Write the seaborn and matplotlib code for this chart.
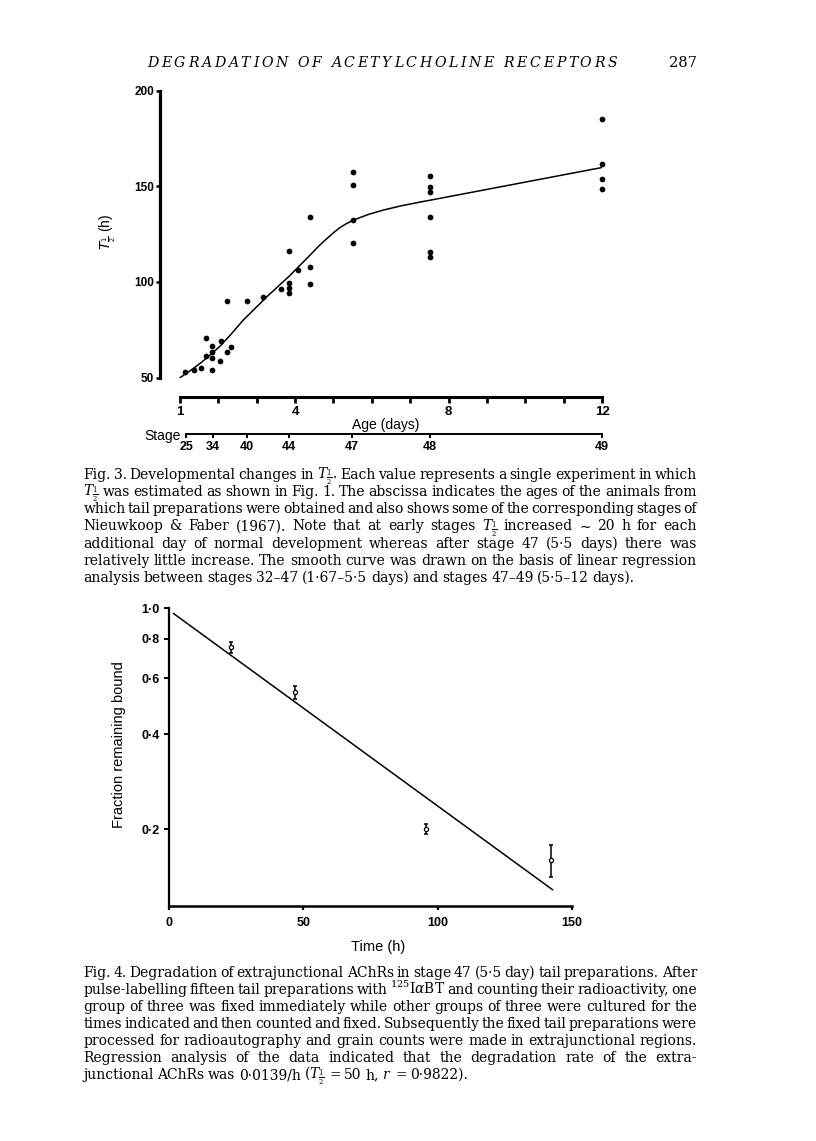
import matplotlib
matplotlib.use('Agg')
import matplotlib.pyplot as plt
from matplotlib.ticker import NullLocator
import seaborn as sns
import pandas as pd

W, H = 816, 1141
PT = 0.72  # points per pixel at dpi 100

# ---------------- Fig. 3 data ----------------
age_days = [1.14, 1.36, 1.55, 1.84, 1.67, 1.69, 1.84, 1.84, 1.84, 2.05, 2.08, 2.22, 2.33,
            2.22, 2.74, 3.17, 3.63, 3.83, 3.83, 3.83, 3.83, 4.08, 4.40, 4.40, 4.40,
            5.51, 5.51, 5.51, 5.51, 7.52, 7.52, 7.52, 7.51, 7.51, 7.51,
            12.0, 12.0, 12.0, 12.0]
t_half_h = [53.1, 54.2, 54.9, 54.2, 70.9, 61.3, 66.7, 63.2, 60.4, 58.9, 69.1, 63.2, 66.2,
            89.8, 89.8, 91.9, 96.1, 116.1, 99.5, 97.1, 94.0, 106.0, 133.9, 107.9, 98.9,
            157.2, 150.8, 132.2, 120.1, 155.2, 149.6, 146.8, 134.1, 115.7, 113.1,
            185.2, 161.8, 153.8, 148.7]
curve_age = [1.00, 1.25, 1.52, 1.75, 2.04, 2.30, 2.65, 3.26, 3.83, 4.39, 4.60, 4.82, 5.00,
             5.17, 5.35, 5.51, 5.90, 6.29, 6.75, 7.25, 7.52, 11.98]
curve_t_half = [50.0, 53.4, 57.4, 61.2, 66.4, 72.0, 80.1, 92.2, 102.7, 114.0, 118.4, 122.5, 125.7,
                128.4, 130.6, 132.2, 135.2, 137.5, 139.7, 141.7, 142.7, 159.7]
age_ticks_major = [1, 4, 8, 12]
age_ticks_minor = [2, 3, 5, 6, 7, 9, 10, 11]
stage_days = [1.16, 1.85, 2.74, 3.85, 5.49, 7.52, 12.0]
stage_labels = ['25', '34', '40', '44', '47', '48', '49']
t_half_ticks = [50, 100, 150, 200]

# ---------------- Fig. 4 data ----------------
time_h = [23.0, 47.0, 95.5, 142.0]
fraction_bound = [0.753, 0.542, 0.200, 0.160]
fraction_low = [0.720, 0.515, 0.193, 0.141]
fraction_high = [0.783, 0.566, 0.208, 0.178]
fit_time_h = [1.6, 142.8]
fit_fraction = [0.964, 0.1286]
time_ticks = [0, 50, 100, 150]
fraction_ticks = [0.2, 0.4, 0.6, 0.8, 1.0]
fraction_tick_labels = ['0·2', '0·4', '0·6', '0·8', '1·0']

header_text = 'DEGRADATION OF ACETYLCHOLINE RECEPTORS'
page_number = '287'
TH = r'$\mathit{T}_{\frac{1}{2}}$'
caption3 = [
    'Fig. 3. Developmental changes in ' + TH + '. Each value represents a single experiment in which',
    TH + ' was estimated as shown in Fig. 1. The abscissa indicates the ages of the animals from',
    'which tail preparations were obtained and also shows some of the corresponding stages of',
    'Nieuwkoop & Faber (1967). Note that at early stages ' + TH + ' increased \u223c 20 h for each',
    'additional day of normal development whereas after stage 47 (5·5 days) there was',
    'relatively little increase. The smooth curve was drawn on the basis of linear regression',
    'analysis between stages 32\u201347 (1·67\u20135·5 days) and stages 47\u201349 (5·5\u201312 days).',
]
caption4 = [
    'Fig. 4. Degradation of extrajunctional AChRs in stage 47 (5·5 day) tail preparations. After',
    r'pulse-labelling fifteen tail preparations with $^{125}$I$\alpha$BT and counting their radioactivity, one',
    'group of three was fixed immediately while other groups of three were cultured for the',
    'times indicated and then counted and fixed. Subsequently the fixed tail preparations were',
    'processed for radioautography and grain counts were made in extrajunctional regions.',
    'Regression analysis of the data indicated that the degradation rate of the extra-',
    'junctional AChRs was 0·0139/h (' + TH + r' = 50 h, $\mathit{r}$ = 0·9822).',
]

sns.set_theme(style='ticks')
plt.rcParams['font.family'] = ['Liberation Sans', 'DejaVu Sans']
plt.rcParams['axes.edgecolor'] = 'black'
plt.rcParams['xtick.color'] = 'black'
plt.rcParams['ytick.color'] = 'black'
plt.rcParams['text.color'] = 'black'
plt.rcParams['axes.labelcolor'] = 'black'

fig = plt.figure(figsize=(W / 100, H / 100), dpi=100)
fig.patch.set_facecolor('white')


def fbox(l, t, r, b):
    return [l / W, 1 - b / H, (r - l) / W, (b - t) / H]


# ================= Fig. 3 =================
x_left = 1 - 20 / 38.4
x_right = 12 + 10 / 38.4
ax1 = fig.add_axes(fbox(160, 90.5, 612, 377.7))
df3 = pd.DataFrame({'age': age_days, 't': t_half_h})
sns.lineplot(x=curve_age, y=curve_t_half, ax=ax1, color='black', linewidth=1.1,
             sort=False, estimator=None)
sns.scatterplot(data=df3, x='age', y='t', ax=ax1, color='black', s=17, linewidth=0,
                clip_on=False, zorder=3)
ax1.set(xlim=(x_left, x_right), ylim=(50, 200))
ax1.set_facecolor('white')
ax1.spines['top'].set_visible(False)
ax1.spines['right'].set_visible(False)
ax1.spines['left'].set_linewidth(2.3)
ax1.spines['left'].set_bounds(50, 200)
ax1.spines['bottom'].set_position(('outward', 19 * PT))
ax1.spines['bottom'].set_linewidth(2.2)
ax1.spines['bottom'].set_bounds(1, 12)
ax1.set_yticks(t_half_ticks)
ax1.set_xticks(age_ticks_major)
ax1.set_xticks(age_ticks_minor, minor=True)
ax1.tick_params(axis='y', direction='out', length=4.5 * PT, width=1.8, pad=1.5 * PT, labelsize=8.5)
ax1.tick_params(axis='x', which='both', direction='out', length=5.5 * PT, width=2.0,
                pad=4.0 * PT, labelsize=9.5)
ax1.tick_params(axis='x', which='minor', labelbottom=False)
for lab in ax1.get_xticklabels() + ax1.get_yticklabels():
    lab.set_fontweight('bold')
ax1.set_ylabel(TH + ' (h)', fontsize=10)
ax1.yaxis.set_label_coords((118 - 160) / 452, (377.7 - 232) / 287.2)
ax1.set_xlabel('Age (days)', fontsize=10)
ax1.xaxis.set_label_coords(0.5, -(418 - 377.7) / 287.2)

sec = ax1.secondary_xaxis(-(434.3 - 377.7) / 287.2)
sec.set_xticks(stage_days, labels=stage_labels)
sec.spines['bottom'].set_bounds(stage_days[0], stage_days[-1])
sec.spines['bottom'].set_linewidth(1.4)
sec.tick_params(direction='out', length=4 * PT, width=1.4, pad=2.5 * PT, labelsize=9)
for lab in sec.get_xticklabels():
    lab.set_fontweight('bold')
fig.text(181 / W, 1 - 440 / H, 'Stage', ha='right', va='baseline', fontsize=10)

# ================= Fig. 4 =================
ax2 = fig.add_axes(fbox(169, 608.3, 572, 905.5))
ax2.set_yscale('log')
sns.lineplot(x=fit_time_h, y=fit_fraction, ax=ax2, color='black', linewidth=1.1, estimator=None)
yerr = [[f - lo for f, lo in zip(fraction_bound, fraction_low)],
        [hi - f for f, hi in zip(fraction_bound, fraction_high)]]
ax2.errorbar(time_h, fraction_bound, yerr=yerr, fmt='none', ecolor='black',
             elinewidth=1.1, capsize=1.6, capthick=1.1, zorder=3)
sns.scatterplot(x=time_h, y=fraction_bound, ax=ax2, s=9, color='white',
                edgecolor='black', linewidth=0.9, zorder=4)
ax2.set(xlim=(0, 150), ylim=(0.1147, 1.0))
ax2.set_facecolor('white')
ax2.spines['top'].set_visible(False)
ax2.spines['right'].set_visible(False)
ax2.spines['left'].set_linewidth(1.6)
ax2.spines['bottom'].set_linewidth(1.8)
ax2.set_yticks(fraction_ticks, labels=fraction_tick_labels)
ax2.yaxis.set_minor_locator(NullLocator())
ax2.set_xticks(time_ticks)
ax2.tick_params(axis='y', direction='out', length=5.5 * PT, width=1.4, pad=4 * PT, labelsize=9)
ax2.tick_params(axis='x', direction='out', length=4 * PT, width=1.6, pad=7 * PT, labelsize=9)
for lab in ax2.get_xticklabels() + ax2.get_yticklabels():
    lab.set_fontweight('bold')
ax2.set_ylabel('Fraction remaining bound', fontsize=10.5)
ax2.yaxis.set_label_coords((126 - 169) / 403, (905.5 - 745) / 297.2)
ax2.set_xlabel('Time (h)', fontsize=10.5)
ax2.xaxis.set_label_coords((378 - 169) / 403, -(940 - 905.5) / 297.2)

# ================= page text =================
SERIF = ['DejaVu Serif', 'Liberation Serif']
renderer = fig.canvas.get_renderer()


def make_text(s, fs, **kw):
    return fig.text(0, 0, s, fontsize=fs, family=SERIF, math_fontfamily='dejavuserif',
                    ha='left', va='baseline', **kw)


def justified_block(lines, x0, x1, yb0, dy, fs):
    for i, line in enumerate(lines):
        words = line.split(' ')
        ts = [make_text(w, fs) for w in words]
        ws = [t.get_window_extent(renderer).width for t in ts]
        if i < len(lines) - 1 and len(words) > 1:
            gap = (x1 - x0 - sum(ws)) / (len(words) - 1)
        else:
            gap = 0.26 * fs / PT
        x = x0
        y = 1 - (yb0 + i * dy) / H
        for t, w in zip(ts, ws):
            t.set_position((x / W, y))
            x += w + gap


def natural_max(lines, fs):
    m = 0
    for line in lines[:-1]:
        words = line.split(' ')
        ts = [make_text(w, fs) for w in words]
        ws = [t.get_window_extent(renderer).width for t in ts]
        for t in ts:
            t.remove()
        m = max(m, sum(ws) + (len(words) - 1) * 0.16 * fs / PT)
    return m


TEXT_L, TEXT_R = 83.3, 697.0
fs0 = 10.0
nm = max(natural_max(caption3, fs0), natural_max(caption4, fs0))
fs_cap = min(10.5, fs0 * (TEXT_R - TEXT_L) / nm)
justified_block(caption3, TEXT_L, TEXT_R, 479.3, 17.06, fs_cap)
justified_block(caption4, TEXT_L, TEXT_R, 976.7, 17.06, fs_cap)

# running header, letter-spaced italics
HX0, HX1, HY = 147.0, 617.0, 67.3
HFS = 10.2
chars = list(header_text)
cts = [make_text(c, HFS, style='italic') for c in chars]
cws = [t.get_window_extent(renderer).width if c != ' ' else 0.3 * HFS / PT
       for t, c in zip(cts, chars)]
extra = (HX1 - HX0 - sum(cws)) / (len(chars) - 1)
x = HX0
for t, w in zip(cts, cws):
    t.set_position((x / W, 1 - HY / H))
    x += w + extra
fig.text(TEXT_R / W, 1 - HY / H, page_number, fontsize=10.5, family=SERIF,
         ha='right', va='baseline')

fig.savefig('out.png', dpi=100, facecolor='white')
